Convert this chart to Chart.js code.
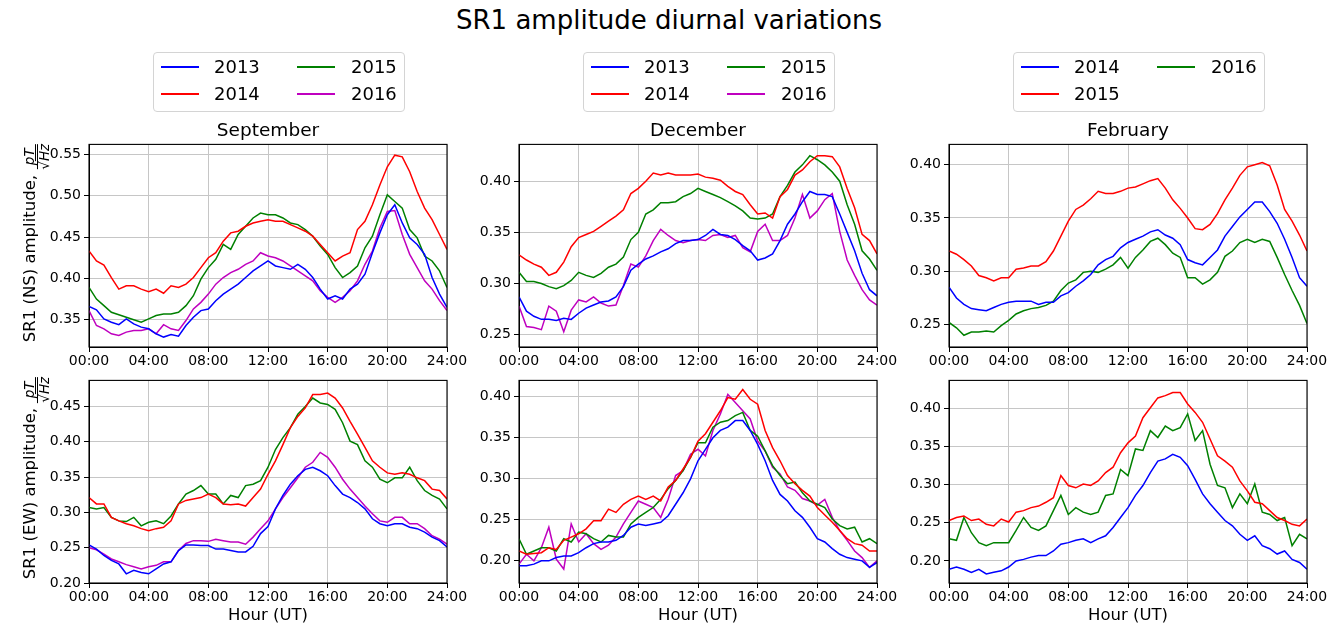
<!DOCTYPE html>
<html>
<head>
<meta charset="utf-8">
<script src="https://cdn.jsdelivr.net/npm/chart.js@4.4.0/dist/chart.umd.min.js"></script>
<style>
  html, body { margin: 0; padding: 0; background: #fff; }
  #fig { position: relative; width: 1342px; height: 625px; overflow: hidden; font-family: 'DejaVu Sans', sans-serif; color: #000; }
  #fig canvas { position: absolute; }
  .txt { position: absolute; transform: translate(-50%, -50%); white-space: nowrap; line-height: 1; }
  .ylab { position: absolute; transform: translate(-50%, -50%) rotate(-90deg); white-space: nowrap; font-size: 16.5px; line-height: 1; }
  .frac { display: inline-block; vertical-align: middle; position: relative; top: 7px; font-size: 13.5px; font-style: italic; text-align: center; line-height: 1.0; }
  .frac span { display: block; }
  .frac .num { border-bottom: 1.5px solid #000; padding: 0 1px; }
  .ov { border-top: 1px solid #000; display: inline !important; }
  .legend { position: absolute; width: 252px; height: 60px; border: 1px solid #d4d4d4; border-radius: 4px; background: #fff; box-sizing: border-box; }
  .legend .ln { position: absolute; width: 38px; height: 2px; }
  .legend .lt { position: absolute; font-size: 18px; line-height: 1; transform: translateY(-50%); }
</style>
</head>
<body>
<div id="fig">
  <div class="txt" style="left:669px; top:20px; font-size:26px;">SR1 amplitude diurnal variations</div>
</div>
<script>
// x axis: half-hour steps, 00:00 .. 24:00
const hours = Array.from({ length: 49 }, (_, i) => i / 2);
const xTicks = [0, 4, 8, 12, 16, 20, 24];
const xTickLabels = ['00:00', '04:00', '08:00', '12:00', '16:00', '20:00', '24:00'];

// September, NS
const sepNS2013 = [0.366,0.362,0.351,0.347,0.344,0.351,0.345,0.341,0.339,0.333,0.329,0.332,0.330,0.343,0.353,0.361,0.363,0.373,0.381,0.387,0.393,0.401,0.409,0.415,0.421,0.415,0.413,0.411,0.417,0.411,0.401,0.387,0.375,0.379,0.375,0.387,0.393,0.405,0.431,0.455,0.477,0.489,0.467,0.449,0.441,0.429,0.401,0.381,0.365];
const sepNS2014 = [0.433,0.421,0.416,0.401,0.387,0.391,0.391,0.387,0.384,0.387,0.382,0.391,0.389,0.393,0.401,0.413,0.425,0.431,0.445,0.455,0.457,0.463,0.467,0.469,0.471,0.469,0.469,0.465,0.461,0.457,0.451,0.441,0.431,0.421,0.427,0.431,0.459,0.469,0.489,0.513,0.535,0.549,0.547,0.529,0.505,0.485,0.471,0.453,0.435];
const sepNS2015 = [0.389,0.375,0.367,0.359,0.356,0.353,0.350,0.347,0.351,0.355,0.357,0.357,0.359,0.367,0.379,0.399,0.413,0.423,0.441,0.435,0.453,0.463,0.473,0.479,0.477,0.477,0.473,0.467,0.465,0.459,0.451,0.439,0.429,0.413,0.401,0.407,0.415,0.437,0.451,0.477,0.501,0.493,0.485,0.459,0.449,0.427,0.421,0.409,0.389];
const sepNS2016 = [0.361,0.343,0.339,0.333,0.331,0.335,0.337,0.337,0.339,0.333,0.344,0.339,0.337,0.349,0.363,0.371,0.381,0.393,0.401,0.407,0.411,0.417,0.421,0.431,0.427,0.425,0.421,0.415,0.409,0.403,0.397,0.385,0.377,0.371,0.377,0.385,0.397,0.417,0.433,0.461,0.481,0.482,0.453,0.429,0.413,0.397,0.387,0.373,0.361];

// December, NS
const decNS2013 = [0.287,0.273,0.268,0.265,0.265,0.264,0.266,0.265,0.271,0.276,0.279,0.282,0.283,0.287,0.297,0.313,0.319,0.324,0.327,0.331,0.334,0.339,0.342,0.342,0.343,0.347,0.353,0.348,0.347,0.343,0.337,0.332,0.323,0.325,0.329,0.342,0.358,0.368,0.380,0.390,0.387,0.387,0.385,0.368,0.350,0.332,0.310,0.294,0.288];
const decNS2014 = [0.328,0.323,0.319,0.316,0.308,0.311,0.321,0.336,0.345,0.348,0.351,0.356,0.361,0.366,0.372,0.388,0.393,0.400,0.408,0.406,0.408,0.406,0.406,0.406,0.407,0.404,0.403,0.401,0.395,0.390,0.387,0.377,0.368,0.369,0.364,0.385,0.392,0.406,0.411,0.419,0.425,0.425,0.424,0.414,0.393,0.374,0.348,0.342,0.329];
const decNS2015 = [0.311,0.302,0.302,0.300,0.297,0.295,0.298,0.303,0.311,0.308,0.306,0.310,0.316,0.319,0.326,0.343,0.350,0.368,0.372,0.379,0.379,0.380,0.385,0.388,0.393,0.390,0.387,0.384,0.380,0.376,0.371,0.364,0.363,0.364,0.368,0.385,0.396,0.409,0.416,0.425,0.421,0.416,0.409,0.400,0.377,0.358,0.332,0.324,0.313];
const decNS2016 = [0.278,0.258,0.257,0.255,0.278,0.273,0.253,0.274,0.284,0.282,0.287,0.281,0.278,0.279,0.298,0.319,0.316,0.327,0.342,0.353,0.347,0.342,0.340,0.342,0.343,0.342,0.347,0.348,0.345,0.347,0.335,0.331,0.351,0.358,0.342,0.342,0.347,0.364,0.387,0.364,0.371,0.382,0.388,0.351,0.323,0.308,0.294,0.284,0.279];

// February, NS
const febNS2014 = [0.285,0.275,0.269,0.265,0.264,0.263,0.266,0.269,0.271,0.272,0.272,0.272,0.269,0.271,0.271,0.277,0.280,0.286,0.291,0.297,0.306,0.311,0.314,0.322,0.327,0.330,0.333,0.337,0.339,0.334,0.331,0.325,0.311,0.308,0.306,0.313,0.320,0.333,0.342,0.351,0.358,0.365,0.365,0.356,0.345,0.330,0.313,0.294,0.286];
const febNS2015 = [0.319,0.316,0.311,0.305,0.296,0.294,0.291,0.294,0.294,0.302,0.303,0.305,0.305,0.309,0.319,0.333,0.347,0.358,0.362,0.368,0.375,0.373,0.373,0.375,0.378,0.379,0.382,0.385,0.387,0.378,0.367,0.359,0.350,0.340,0.339,0.344,0.354,0.367,0.378,0.390,0.398,0.400,0.402,0.399,0.381,0.358,0.347,0.334,0.319];
const febNS2016 = [0.252,0.247,0.240,0.243,0.243,0.244,0.243,0.249,0.254,0.260,0.263,0.265,0.266,0.268,0.272,0.282,0.289,0.292,0.299,0.300,0.299,0.302,0.306,0.313,0.303,0.313,0.320,0.328,0.331,0.325,0.317,0.313,0.294,0.294,0.288,0.292,0.299,0.314,0.319,0.327,0.330,0.327,0.330,0.328,0.313,0.297,0.282,0.268,0.251];

// September, EW
const sepEW2013 = [0.254,0.248,0.239,0.232,0.227,0.213,0.218,0.215,0.213,0.220,0.227,0.230,0.246,0.254,0.254,0.253,0.253,0.248,0.248,0.246,0.244,0.244,0.252,0.270,0.280,0.305,0.324,0.340,0.352,0.361,0.364,0.359,0.352,0.338,0.326,0.321,0.314,0.305,0.291,0.284,0.281,0.284,0.284,0.279,0.277,0.272,0.265,0.260,0.251];
const sepEW2014 = [0.321,0.312,0.312,0.293,0.288,0.284,0.281,0.277,0.274,0.277,0.279,0.288,0.312,0.317,0.319,0.321,0.326,0.321,0.312,0.311,0.312,0.309,0.321,0.333,0.354,0.373,0.396,0.420,0.436,0.448,0.467,0.467,0.469,0.462,0.448,0.429,0.411,0.392,0.373,0.364,0.356,0.354,0.356,0.354,0.349,0.345,0.333,0.331,0.319];
const sepEW2015 = [0.307,0.305,0.307,0.293,0.288,0.287,0.293,0.281,0.286,0.288,0.284,0.295,0.312,0.326,0.331,0.338,0.326,0.326,0.312,0.324,0.321,0.338,0.340,0.345,0.364,0.389,0.406,0.420,0.439,0.450,0.462,0.455,0.453,0.446,0.427,0.401,0.396,0.373,0.364,0.347,0.342,0.349,0.349,0.364,0.345,0.331,0.324,0.319,0.305];
const sepEW2016 = [0.250,0.247,0.241,0.234,0.230,0.226,0.223,0.220,0.223,0.225,0.230,0.230,0.246,0.256,0.260,0.260,0.259,0.262,0.260,0.258,0.258,0.255,0.265,0.277,0.288,0.305,0.321,0.335,0.349,0.364,0.371,0.385,0.378,0.364,0.347,0.333,0.321,0.309,0.298,0.288,0.286,0.293,0.293,0.284,0.284,0.277,0.267,0.262,0.255];

// December, EW
const decEW2013 = [0.194,0.194,0.196,0.200,0.200,0.204,0.206,0.206,0.210,0.216,0.221,0.223,0.223,0.225,0.231,0.241,0.245,0.243,0.245,0.247,0.255,0.269,0.283,0.300,0.322,0.336,0.350,0.359,0.363,0.371,0.371,0.359,0.342,0.322,0.298,0.281,0.273,0.261,0.253,0.241,0.227,0.223,0.215,0.208,0.204,0.202,0.200,0.192,0.198];
const decEW2014 = [0.212,0.208,0.209,0.210,0.216,0.214,0.225,0.229,0.233,0.239,0.249,0.249,0.263,0.259,0.269,0.275,0.279,0.275,0.279,0.273,0.290,0.298,0.312,0.326,0.346,0.355,0.369,0.383,0.399,0.397,0.409,0.397,0.391,0.359,0.338,0.322,0.304,0.294,0.286,0.279,0.265,0.256,0.247,0.237,0.227,0.221,0.219,0.212,0.212];
const decEW2015 = [0.227,0.208,0.212,0.216,0.216,0.212,0.227,0.223,0.235,0.233,0.227,0.223,0.231,0.229,0.229,0.245,0.253,0.259,0.265,0.275,0.288,0.298,0.310,0.326,0.344,0.344,0.363,0.369,0.371,0.377,0.381,0.359,0.352,0.334,0.316,0.304,0.294,0.296,0.283,0.273,0.269,0.265,0.251,0.243,0.239,0.241,0.223,0.227,0.221];
const decEW2016 = [0.196,0.208,0.200,0.216,0.241,0.202,0.190,0.245,0.223,0.233,0.221,0.214,0.219,0.229,0.245,0.259,0.273,0.269,0.265,0.253,0.275,0.304,0.310,0.330,0.336,0.328,0.359,0.379,0.403,0.393,0.383,0.373,0.346,0.334,0.314,0.306,0.290,0.286,0.276,0.273,0.268,0.275,0.253,0.237,0.225,0.212,0.204,0.192,0.200];

// February, EW
const febEW2014 = [0.189,0.192,0.189,0.185,0.189,0.183,0.185,0.187,0.192,0.200,0.202,0.205,0.207,0.207,0.213,0.222,0.224,0.227,0.229,0.224,0.229,0.233,0.244,0.257,0.270,0.286,0.299,0.316,0.331,0.334,0.340,0.336,0.325,0.307,0.288,0.275,0.264,0.253,0.246,0.235,0.227,0.233,0.220,0.216,0.209,0.213,0.202,0.198,0.189];
const febEW2015 = [0.253,0.257,0.259,0.253,0.255,0.248,0.246,0.255,0.251,0.264,0.266,0.270,0.272,0.277,0.283,0.312,0.299,0.296,0.301,0.299,0.305,0.316,0.323,0.342,0.355,0.364,0.388,0.401,0.414,0.417,0.421,0.421,0.406,0.395,0.382,0.360,0.338,0.331,0.323,0.305,0.292,0.277,0.275,0.266,0.257,0.253,0.248,0.246,0.255];
const febEW2016 = [0.229,0.227,0.257,0.237,0.224,0.220,0.224,0.224,0.224,0.240,0.257,0.244,0.240,0.246,0.266,0.286,0.261,0.270,0.264,0.261,0.264,0.286,0.288,0.320,0.312,0.347,0.345,0.371,0.362,0.377,0.371,0.375,0.393,0.358,0.371,0.327,0.299,0.296,0.270,0.288,0.275,0.301,0.264,0.261,0.253,0.257,0.220,0.235,0.229];

const yearsA = ['2013', '2014', '2015', '2016'];
const yearsB = ['2014', '2015', '2016'];
const lineColors = ['#0000ff', '#ff0000', '#008000', '#bf00bf'];

const panels = [
  { title: 'September', col: 0, row: 0, yMin: 0.317, yMax: 0.562, yTicks: [0.35, 0.40, 0.45, 0.50, 0.55], years: yearsA, series: [sepNS2013, sepNS2014, sepNS2015, sepNS2016] },
  { title: 'December',  col: 1, row: 0, yMin: 0.238, yMax: 0.436, yTicks: [0.25, 0.30, 0.35, 0.40], years: yearsA, series: [decNS2013, decNS2014, decNS2015, decNS2016] },
  { title: 'February',  col: 2, row: 0, yMin: 0.229, yMax: 0.419, yTicks: [0.25, 0.30, 0.35, 0.40], years: yearsB, series: [febNS2014, febNS2015, febNS2016] },
  { col: 0, row: 1, yMin: 0.200, yMax: 0.487, yTicks: [0.20, 0.25, 0.30, 0.35, 0.40, 0.45], years: yearsA, series: [sepEW2013, sepEW2014, sepEW2015, sepEW2016] },
  { col: 1, row: 1, yMin: 0.173, yMax: 0.420, yTicks: [0.20, 0.25, 0.30, 0.35, 0.40], years: yearsA, series: [decEW2013, decEW2014, decEW2015, decEW2016] },
  { col: 2, row: 1, yMin: 0.171, yMax: 0.437, yTicks: [0.20, 0.25, 0.30, 0.35, 0.40], years: yearsB, series: [febEW2014, febEW2015, febEW2016] }
];

// plot area geometry (px)
const colLeft = [89, 519, 949];
const rowTop = [143, 379];
const plotW = 358, plotH = 204;
const padL = 80, padR = 40, padT = 10, padB = 30;

Chart.defaults.font.family = "'DejaVu Sans', sans-serif";
Chart.defaults.color = '#000';

const frame = {
  id: 'frame',
  afterDraw(chart) {
    const a = chart.chartArea, ctx = chart.ctx;
    ctx.save();
    ctx.strokeStyle = '#000';
    ctx.lineWidth = 1.1;
    ctx.strokeRect(a.left, a.top, a.right - a.left, a.bottom - a.top);
    ctx.restore();
  }
};

const fig = document.getElementById('fig');

function addText(html, x, y, size) {
  const d = document.createElement('div');
  d.className = 'txt';
  d.style.left = x + 'px';
  d.style.top = y + 'px';
  d.style.fontSize = size + 'px';
  d.innerHTML = html;
  fig.appendChild(d);
}

function addLegend(p, left) {
  const box = document.createElement('div');
  box.className = 'legend';
  box.style.left = left + 'px';
  box.style.top = '52px';
  p.years.forEach((y, i) => {
    const c = Math.floor(i / 2), r = i % 2;
    const cy = r === 0 ? 14 : 40.5;
    const ln = document.createElement('div');
    ln.className = 'ln';
    ln.style.left = (c === 0 ? 7 : 143) + 'px';
    ln.style.top = Math.round(cy - 1) + 'px';
    ln.style.background = lineColors[i];
    const t = document.createElement('div');
    t.className = 'lt';
    t.style.left = (c === 0 ? 60 : 197) + 'px';
    t.style.top = cy + 'px';
    t.textContent = y;
    box.appendChild(ln);
    box.appendChild(t);
  });
  fig.appendChild(box);
}

function makePanel(p) {
  const left = colLeft[p.col], top = rowTop[p.row];
  const cv = document.createElement('canvas');
  cv.width = plotW + padL + padR;
  cv.height = plotH + padT + padB;
  cv.style.left = (left - padL) + 'px';
  cv.style.top = (top - padT) + 'px';
  fig.appendChild(cv);

  new Chart(cv, {
    type: 'line',
    data: {
      datasets: p.series.map((vals, i) => ({
        label: p.years[i],
        data: vals.map((v, k) => ({ x: hours[k], y: v })),
        borderColor: lineColors[i],
        borderWidth: 1.5,
        pointRadius: 0,
        tension: 0,
        fill: false
      }))
    },
    options: {
      responsive: false,
      animation: false,
      layout: { padding: { left: 0, right: padR, top: padT, bottom: 0 } },
      plugins: { legend: { display: false }, tooltip: { enabled: false } },
      scales: {
        x: {
          type: 'linear', min: 0, max: 24,
          afterBuildTicks: s => { s.ticks = xTicks.map(v => ({ value: v })); },
          afterFit: s => { s.height = padB; },
          ticks: {
            callback: v => xTickLabels[xTicks.indexOf(v)],
            maxRotation: 0, autoSkip: false, padding: 1,
            font: { size: 14 }
          },
          grid: { color: '#c6c6c6', lineWidth: 1, tickColor: '#000', tickLength: 5 },
          border: { color: '#000', width: 1 }
        },
        y: {
          type: 'linear', min: p.yMin, max: p.yMax,
          afterBuildTicks: s => { s.ticks = p.yTicks.map(v => ({ value: v })); },
          afterFit: s => { s.width = padL; },
          ticks: {
            callback: v => v.toFixed(2),
            padding: 3,
            font: { size: 14 }
          },
          grid: { color: '#c6c6c6', lineWidth: 1, tickColor: '#000', tickLength: 5 },
          border: { color: '#000', width: 1 }
        }
      }
    },
    plugins: [frame]
  });

  const cx = left + plotW / 2;
  if (p.title) {
    addText(p.title, cx, 130, 18.5);
    addLegend(p, left + 64);
  }
  if (p.row === 1) addText('Hour (UT)', cx, 615, 16.5);
}

panels.forEach(makePanel);

// y axis labels
[['SR1 (NS) amplitude, ', 243], ['SR1 (EW) amplitude, ', 478]].forEach(([txt, cy]) => {
  const d = document.createElement('div');
  d.className = 'ylab';
  d.style.left = '30px';
  d.style.top = cy + 'px';
  d.innerHTML = txt + '<span class="frac"><span class="num">pT</span><span>√<span class="ov">Hz</span></span></span>';
  fig.appendChild(d);
});
</script>
</body>
</html>
